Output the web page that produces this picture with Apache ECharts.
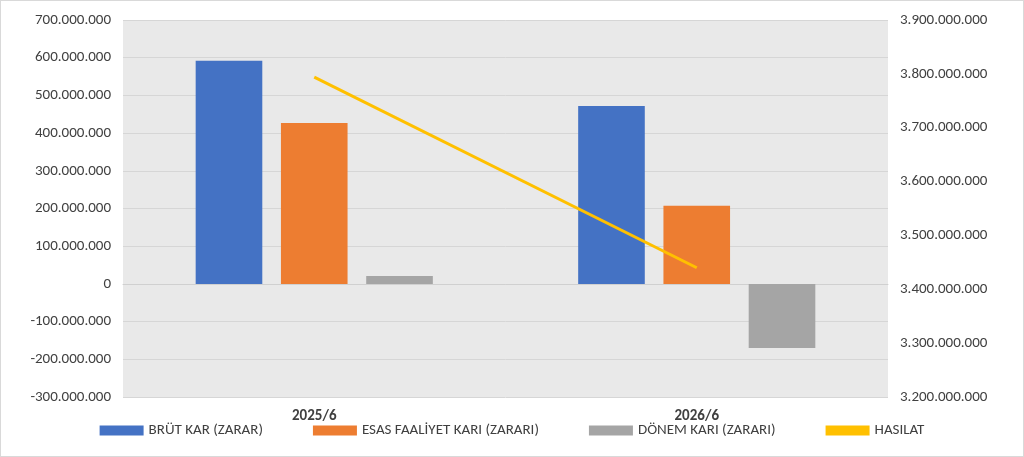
<!DOCTYPE html>
<html><head><meta charset="utf-8">
<script src="https://cdn.jsdelivr.net/npm/echarts@6/dist/echarts.min.js"></script>
<style>html,body{margin:0;padding:0;background:#fff}#c{width:1024px;height:457px;box-sizing:border-box;border:1px solid #d9d9d9}</style>
</head><body><div id="c"></div>
<script>
const categories = ['2025/6', '2026/6'];
const brutKar = [592000000, 472000000];
const esasFaaliyet = [427000000, 207000000];
const donemKari = [21000000, -170000000];
const hasilat = [3794000000, 3440000000];

function fmt(v){ return v.toLocaleString('de-DE'); }
const chart = echarts.init(document.getElementById('c'));
chart.setOption({
  animation:false,
  textStyle:{fontFamily:'Calibri, Carlito, Lato, "Liberation Sans", Arial'},
  grid:{left:122,right:135,top:19,bottom:59,show:true,backgroundColor:'#e9e9e9',borderWidth:0},
  legend:{bottom:13,left:'center',itemWidth:44,itemHeight:10,itemGap:50,
    textStyle:{color:'#404040',fontSize:15},
    data:[{name:'BRÜT KAR (ZARAR)',icon:'rect'},{name:'ESAS FAALİYET KARI (ZARARI)',icon:'rect'},{name:'DÖNEM KARI (ZARARI)',icon:'rect'},{name:'HASILAT',icon:'rect'}]},
  xAxis:{type:'category',data:categories,
    axisLine:{onZero:true,onZeroAxisIndex:0,lineStyle:{color:'#d0d0d0'}},axisTick:{show:false},
    axisLabel:{color:'#404040',fontSize:15,fontWeight:'bold',margin:12}},
  yAxis:[
    {type:'value',min:-300000000,max:700000000,interval:100000000,
     axisLabel:{formatter:fmt,color:'#404040',fontSize:15,margin:12},
     splitLine:{lineStyle:{color:'#d6d6d6'}},axisLine:{show:false},axisTick:{show:false}},
    {type:'value',min:3200000000,max:3900000000,interval:100000000,
     axisLabel:{formatter:fmt,color:'#404040',fontSize:15,margin:12},
     splitLine:{show:false},axisLine:{show:false},axisTick:{show:false}}
  ],
  series:[
    {name:'BRÜT KAR (ZARAR)',type:'bar',data:brutKar,itemStyle:{color:'#4472c4'},barGap:'28%',barCategoryGap:'38%'},
    {name:'ESAS FAALİYET KARI (ZARARI)',type:'bar',data:esasFaaliyet,itemStyle:{color:'#ed7d31'}},
    {name:'DÖNEM KARI (ZARARI)',type:'bar',data:donemKari,itemStyle:{color:'#a5a5a5'}},
    {name:'HASILAT',type:'line',yAxisIndex:1,data:hasilat,symbol:'none',lineStyle:{color:'#ffc000',width:3},itemStyle:{color:'#ffc000'}}
  ]
});
</script></body></html>
